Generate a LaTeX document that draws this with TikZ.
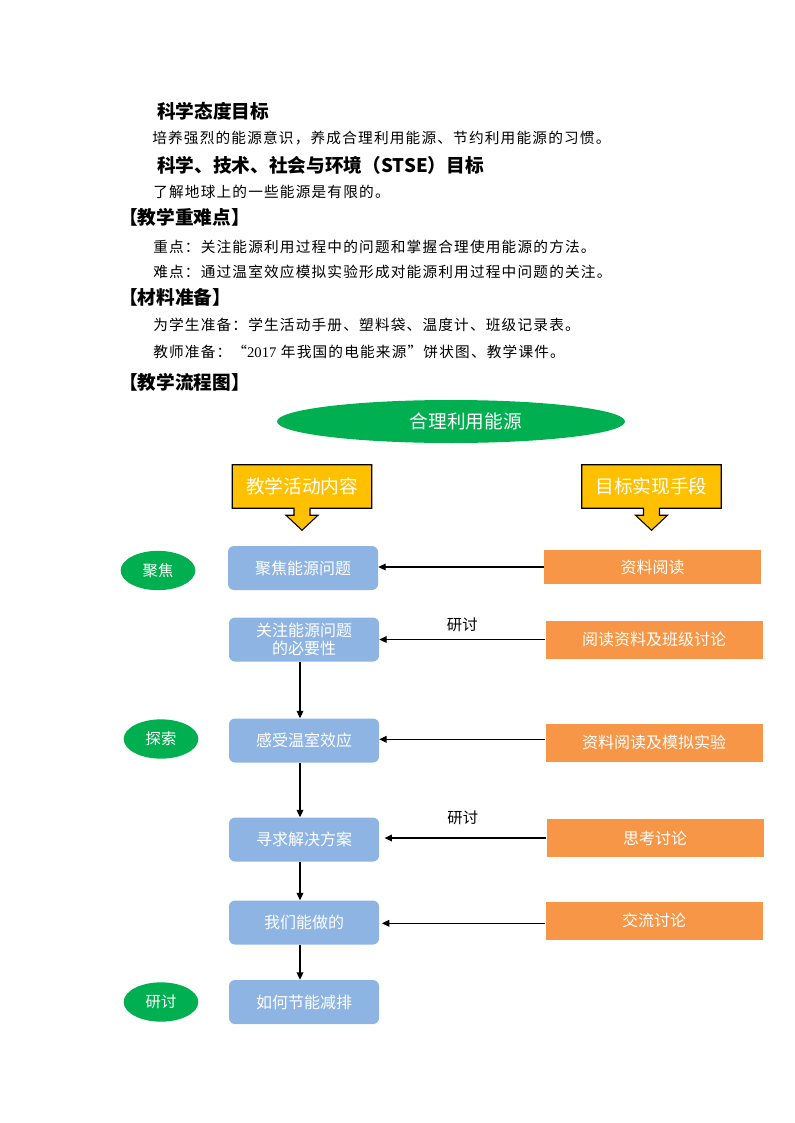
\documentclass[tikz,border=0pt]{standalone}
\usepackage{fontspec}
\setmainfont{Liberation Serif}
\newfontfamily\cjk{Noto Sans CJK SC}
\newfontfamily\cjkthin[LetterSpace=8]{Noto Sans CJK SC}
\usepackage{xcolor}
\usetikzlibrary{arrows.meta, shapes.geometric}

\definecolor{leafgreen}{HTML}{00B050}
\definecolor{goldbox}{HTML}{FFC000}
\definecolor{skyblue}{HTML}{8EB4E3}
\definecolor{tangerine}{HTML}{F79646}

\begin{document}
\begin{tikzpicture}[x=0.75pt, y=-0.75pt,
    heading/.style={anchor=west, inner sep=0pt, font=\cjk\bfseries\fontsize{14pt}{16pt}\selectfont},
    bodyline/.style={anchor=west, inner sep=0pt, font=\cjkthin\fontsize{11pt}{13pt}\selectfont},
    stage/.style={ellipse, fill=leafgreen, text=white, inner sep=0pt, minimum width=56pt, minimum height=29.5pt, font=\cjk\fontsize{11.5pt}{13pt}\selectfont},
    activity/.style={rectangle, rounded corners=4.5pt, fill=skyblue, text=white, align=center, inner sep=0pt, minimum width=112.5pt, minimum height=33pt, font=\cjk\fontsize{12pt}{15pt}\selectfont},
    means/.style={rectangle, fill=tangerine, text=white, inner sep=0pt, minimum width=162.75pt, minimum height=28.5pt, font=\cjk\fontsize{12pt}{14pt}\selectfont},
    callout/.style={fill=goldbox, draw=black, line width=0.8pt},
    flow/.style={-{Triangle[length=5.5pt, width=5pt]}, line width=0.9pt}]

    \useasboundingbox (0,0) rectangle (794,1123);

    % Objectives and preparation text
    \node[heading]  (attitude) at (157,111)   {科学态度目标};
    \node[bodyline] (habit)    at (152,138.5) {培养强烈的能源意识，养成合理利用能源、节约利用能源的习惯。};
    \node[heading]  (stse)     at (157,165)   {科学、技术、社会与环境（STSE）目标};
    \node[bodyline] (limited)  at (153,191.5) {了解地球上的一些能源是有限的。};
    \node[heading]  (keys)     at (119,217)   {【教学重难点】};
    \node[bodyline] (focus)    at (153,246.5) {重点：关注能源利用过程中的问题和掌握合理使用能源的方法。};
    \node[bodyline] (hard)     at (153,271.5) {难点：通过温室效应模拟实验形成对能源利用过程中问题的关注。};
    \node[heading]  (material) at (119,297)   {【材料准备】};
    \node[bodyline] (student)  at (153,325)   {为学生准备：学生活动手册、塑料袋、温度计、班级记录表。};
    \node[bodyline] (teacher)  at (153,352)   {教师准备：“{\rmfamily 2017} 年我国的电能来源”饼状图、教学课件。};
    \node[heading]  (chart)    at (119,382)   {【教学流程图】};

    % Title
    \node[ellipse, fill=leafgreen, inner sep=0pt, minimum width=261pt, minimum height=32.25pt] (title) at (451,421.5) {};
    \node[text=white, font=\cjk\fontsize{14pt}{16pt}\selectfont] (titletext) at ([xshift=11pt]title.center) {合理利用能源};

    % Column headers with down arrows
    \foreach \nm/\x/\txt in {content/302/教学活动内容, method/651.5/目标实现手段} {
        \path (\x,486.5) node[minimum width=104.25pt, minimum height=32.25pt, inner sep=0pt] (\nm) {};
        \draw[callout] (\nm.north west) -- (\nm.north east) -- (\nm.south east)
            -- ([xshift=6pt]\nm.south) -- ++(0,7) -- ++(8,0) -- ++(-16,15) -- ++(-16,-15) -- ++(8,0)
            -- ([xshift=-6pt]\nm.south) -- (\nm.south west) -- cycle;
        \node[text=white, font=\cjk\fontsize{14pt}{16pt}\selectfont] (\nm text) at (\nm) {\txt};
    }

    % Stages
    \node[stage] (gather)  at (158,570.5) {聚焦};
    \node[stage] (explore) at (161,739)   {探索};
    \node[stage] (discuss) at (161,1002)  {研讨};

    % Teaching activities
    \node[activity] (b1) at (303,568)   {聚焦能源问题};
    \node[activity] (b2) at (304,639.5) {关注能源问题\\[-2pt]的必要性};
    \node[activity] (b3) at (304,740.5) {感受温室效应};
    \node[activity] (b4) at (304,839.5) {寻求解决方案};
    \node[activity] (b5) at (304,922.5) {我们能做的};
    \node[activity] (b6) at (304,1002)  {如何节能减排};

    % Means
    \node[means, minimum height=25.5pt] (o1) at (652.5,567) {资料阅读};
    \node[means] (o2) at (654,639.5) {阅读资料及班级讨论};
    \node[means] (o3) at (654,742.5) {资料阅读及模拟实验};
    \node[means] (o4) at (655,838)   {思考讨论};
    \node[means] (o5) at (654,920.5) {交流讨论};

    % Connectors
    \draw[flow] (o1.west) -- (o1.west -| b1.east);
    \draw[flow] (o2.west) -- (o2.west -| b2.east)
        node[midway, above=1.75pt, font=\cjk\fontsize{11.5pt}{13pt}\selectfont] (talk1) {研讨};
    \draw[flow] ([yshift=2.4pt]o3.west) -- ([yshift=2.4pt]o3.west -| b3.east);
    \draw[flow, shorten >=4pt] (o4.west) -- (o4.west -| b4.east)
        node[midway, above=6.25pt, font=\cjk\fontsize{11.5pt}{13pt}\selectfont] (talk2) {研讨};
    \draw[flow, shorten >=2pt] ([yshift=-2.1pt]o5.west) -- ([yshift=-2.1pt]o5.west -| b5.east);
    \foreach \a/\b in {b2/b3, b3/b4, b4/b5, b5/b6} {
        \draw[flow] ([xshift=-3pt]\a.south) -- ([xshift=-3pt]\b.north);
    }
\end{tikzpicture}
\end{document}
